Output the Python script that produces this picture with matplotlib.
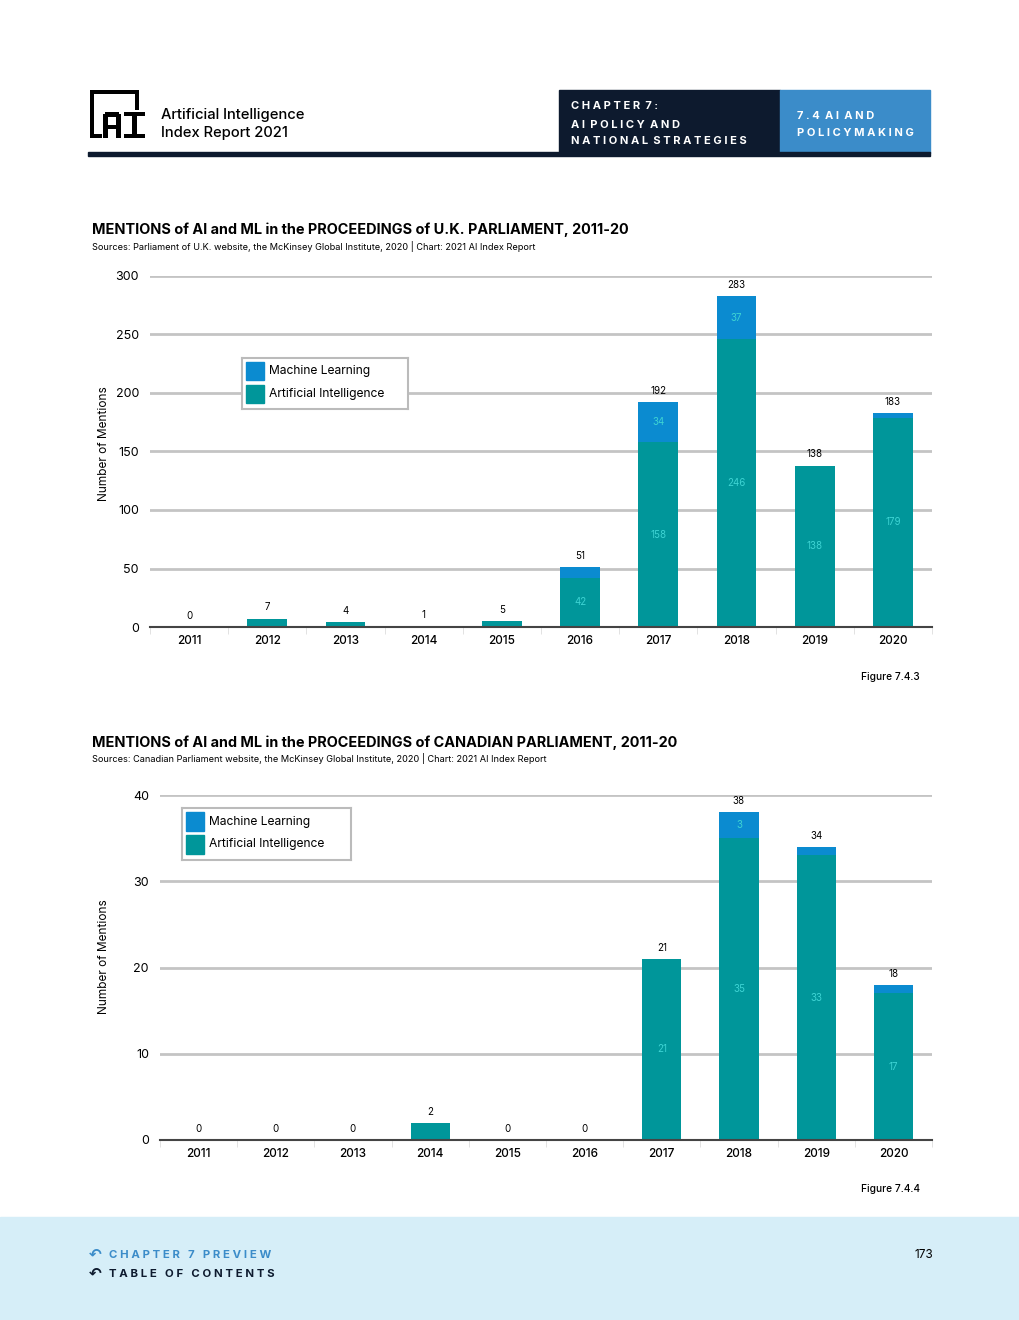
import numpy as np
import matplotlib.pyplot as plt
from matplotlib.patches import Rectangle

# data
years = ["2011", "2012", "2013", "2014", "2015", "2016", "2017", "2018", "2019", "2020"]

uk_ai = [0, 7, 4, 0, 5, 42, 158, 246, 138, 179]
uk_ml = [0, 0, 0, 1, 0, 9, 34, 37, 0, 4]

ca_ai = [0, 0, 0, 2, 0, 0, 21, 35, 33, 17]
ca_ml = [0, 0, 0, 0, 0, 0, 0, 3, 1, 1]

#configs
W, H = 1020, 1320
teal = "#00969a"
blue = "#0b8bd0"
inner = "#3ed3d3"
grid_c = "#c4c4c4"
navy = "#0d1a2e"
font = "Inter"

plt.rcParams['font.family'] = [font, 'DejaVu Sans']

fig = plt.figure(figsize=(W / 100, H / 100), dpi=100)


def px(x0, y0, x1, y1):
    # pixel box (top-left origin) -> figure fraction rect
    return [x0 / W, 1 - y1 / H, (x1 - x0) / W, (y1 - y0) / H]


def ftext(x, y, s, **kw):
    fig.text(x / W, 1 - y / H, s, **kw)


# page background pieces
bg = fig.add_axes([0, 0, 1, 1], zorder=-5)
bg.set_xlim(0, W)
bg.set_ylim(H, 0)
bg.axis("off")
bg.add_patch(Rectangle((559, 90), 221, 63, color=navy))
bg.add_patch(Rectangle((780, 90), 150, 63, color="#3b8cc9"))
bg.add_patch(Rectangle((88, 152), 842, 4, color=navy))
bg.add_patch(Rectangle((0, 1217), W, 103, color="#d6eef8"))

# logo, made of blocks
logo = [
    (90, 90, 94, 138), (90, 90, 139, 94), (135, 90, 139, 110), (90, 134, 102, 138),
    (103, 114, 108, 138), (116, 114, 121, 138), (105, 112, 119, 117), (103, 125, 121, 129),
    (124, 112, 145, 116), (124, 134, 145, 138), (132, 112, 137, 138),
]
for x0, y0, x1, y1 in logo:
    bg.add_patch(Rectangle((x0, y0), x1 - x0, y1 - y0, color="black", lw=0))

ftext(161, 115, "Artificial Intelligence", fontsize=10.6, fontweight="medium", va="center")
ftext(161, 133, "Index Report 2021", fontsize=10.6, fontweight="medium", va="center")
ftext(571, 106, "C H A P T E R  7 :", fontsize=8, fontweight="bold", color="white", va="center")
ftext(571, 125, "A I  P O L I C Y  A N D", fontsize=8, fontweight="bold", color="white", va="center")
ftext(571, 141, "N A T I O N A L  S T R A T E G I E S", fontsize=8, fontweight="bold", color="white", va="center")
ftext(797, 116, "7 . 4  A I  A N D", fontsize=8, fontweight="bold", color="white", va="center")
ftext(797, 133, "P O L I C Y M A K I N G", fontsize=8, fontweight="bold", color="white", va="center")

# footer
ftext(89, 1254, "\u21b6", fontsize=11, fontweight="bold", color="#3b8cc9", va="center", family=["DejaVu Sans"])
ftext(89, 1273, "\u21b6", fontsize=11, fontweight="bold", color=navy, va="center", family=["DejaVu Sans"])
ftext(109, 1255, "C H A P T E R   7   P R E V I E W", fontsize=8.2, fontweight="bold",
      color="#3b8cc9", va="center")
ftext(109, 1274, "T A B L E   O F   C O N T E N T S", fontsize=8.2, fontweight="bold",
      color=navy, va="center")
ftext(933, 1255, "173", fontsize=8.5, ha="right", va="center")


def draw_chart(box, ai, ml, ymax, ystep, legend_box, title, source, title_y, fig_label, fig_y, ylabel_y):
    ax = fig.add_axes(px(*box))
    x = np.arange(len(years))
    ax.bar(x, ai, width=0.51, color=teal, zorder=3)
    ax.bar(x, ml, width=0.51, bottom=ai, color=blue, zorder=3)
    for i in range(len(years)):
        tot = ai[i] + ml[i]
        if tot == 0:
            # thin stub where a bar is empty
            ax.bar(x[i], ymax * 0.004, width=0.51, color=blue, alpha=0.5, zorder=3)
        ax.text(x[i], tot + ymax * 0.018, str(tot), ha="center", va="bottom", fontsize=7)
        if ai[i] >= ymax * 0.1:
            ax.text(x[i], ai[i] / 2, str(ai[i]), ha="center", va="center", fontsize=7,
                    color=inner, zorder=4)
        if ml[i] >= ymax * 0.06:
            ax.text(x[i], ai[i] + ml[i] / 2, str(ml[i]), ha="center", va="center",
                    fontsize=7, color=inner, zorder=4)
    ax.set_xlim(-0.5, len(years) - 0.5)
    ax.set_ylim(0, ymax)
    ax.set_yticks(np.arange(0, ymax + 1, ystep))
    ax.yaxis.grid(True, color=grid_c, lw=2, zorder=0)
    ax.tick_params(axis="y", length=0, labelsize=9, pad=8)
    ax.set_xticks(x)
    ax.set_xticklabels(years, fontsize=8.5, fontweight="medium")
    ax.tick_params(axis="x", length=0, pad=6)
    ax.set_xticks(np.arange(-0.5, len(years)), minor=True)
    ax.tick_params(axis="x", which="minor", length=5, color="#dddddd", direction="out")
    for sp in ["top", "right", "left"]:
        ax.spines[sp].set_visible(False)
    ax.spines["bottom"].set_color("#444444")
    ax.spines["bottom"].set_linewidth(1.5)
    ax.spines["bottom"].set_zorder(5)

    # legend box
    lb = fig.add_axes(px(*legend_box))
    lb.set_xlim(0, 1)
    lb.set_ylim(1, 0)
    lb.set_xticks([])
    lb.set_yticks([])
    for sp in lb.spines.values():
        sp.set_color("#bbbbbb")
        sp.set_linewidth(1.5)
    lw_ = legend_box[2] - legend_box[0]
    sw = 18 / lw_
    lb.add_patch(Rectangle((4 / lw_, 0.08), sw, 0.36, color=blue))
    lb.add_patch(Rectangle((4 / lw_, 0.52), sw, 0.36, color=teal))
    lb.text(27 / lw_, 0.26, "Machine Learning", va="center", fontsize=8.7)
    lb.text(27 / lw_, 0.70, "Artificial Intelligence", va="center", fontsize=8.7)

    ftext(92, title_y, title, fontsize=10.4, fontweight="bold", va="center")
    ftext(92, title_y + 16, source, fontsize=6.6, va="center")
    ftext(104, ylabel_y, "Number of Mentions", fontsize=8.5, rotation=90, ha="center", va="center")
    ftext(920, fig_y, fig_label, fontsize=7.3, ha="right", va="center", fontweight="medium")
    return ax


draw_chart((150, 276, 932, 627), uk_ai, uk_ml, 300, 50, (242, 358, 408, 409),
           "MENTIONS of AI and ML in the PROCEEDINGS of U.K. PARLIAMENT, 2011-20",
           "Sources: Parliament of U.K. website, the McKinsey Global Institute, 2020 | Chart: 2021 AI Index Report",
           230, "Figure 7.4.3", 677, 444)

draw_chart((160, 795, 932, 1140), ca_ai, ca_ml, 40, 10, (182, 808, 351, 860),
           "MENTIONS of AI and ML in the PROCEEDINGS of CANADIAN PARLIAMENT, 2011-20",
           "Sources: Canadian Parliament website, the McKinsey Global Institute, 2020 | Chart: 2021 AI Index Report",
           743, "Figure 7.4.4", 1189, 957)

fig.savefig("out.png", dpi=100)
